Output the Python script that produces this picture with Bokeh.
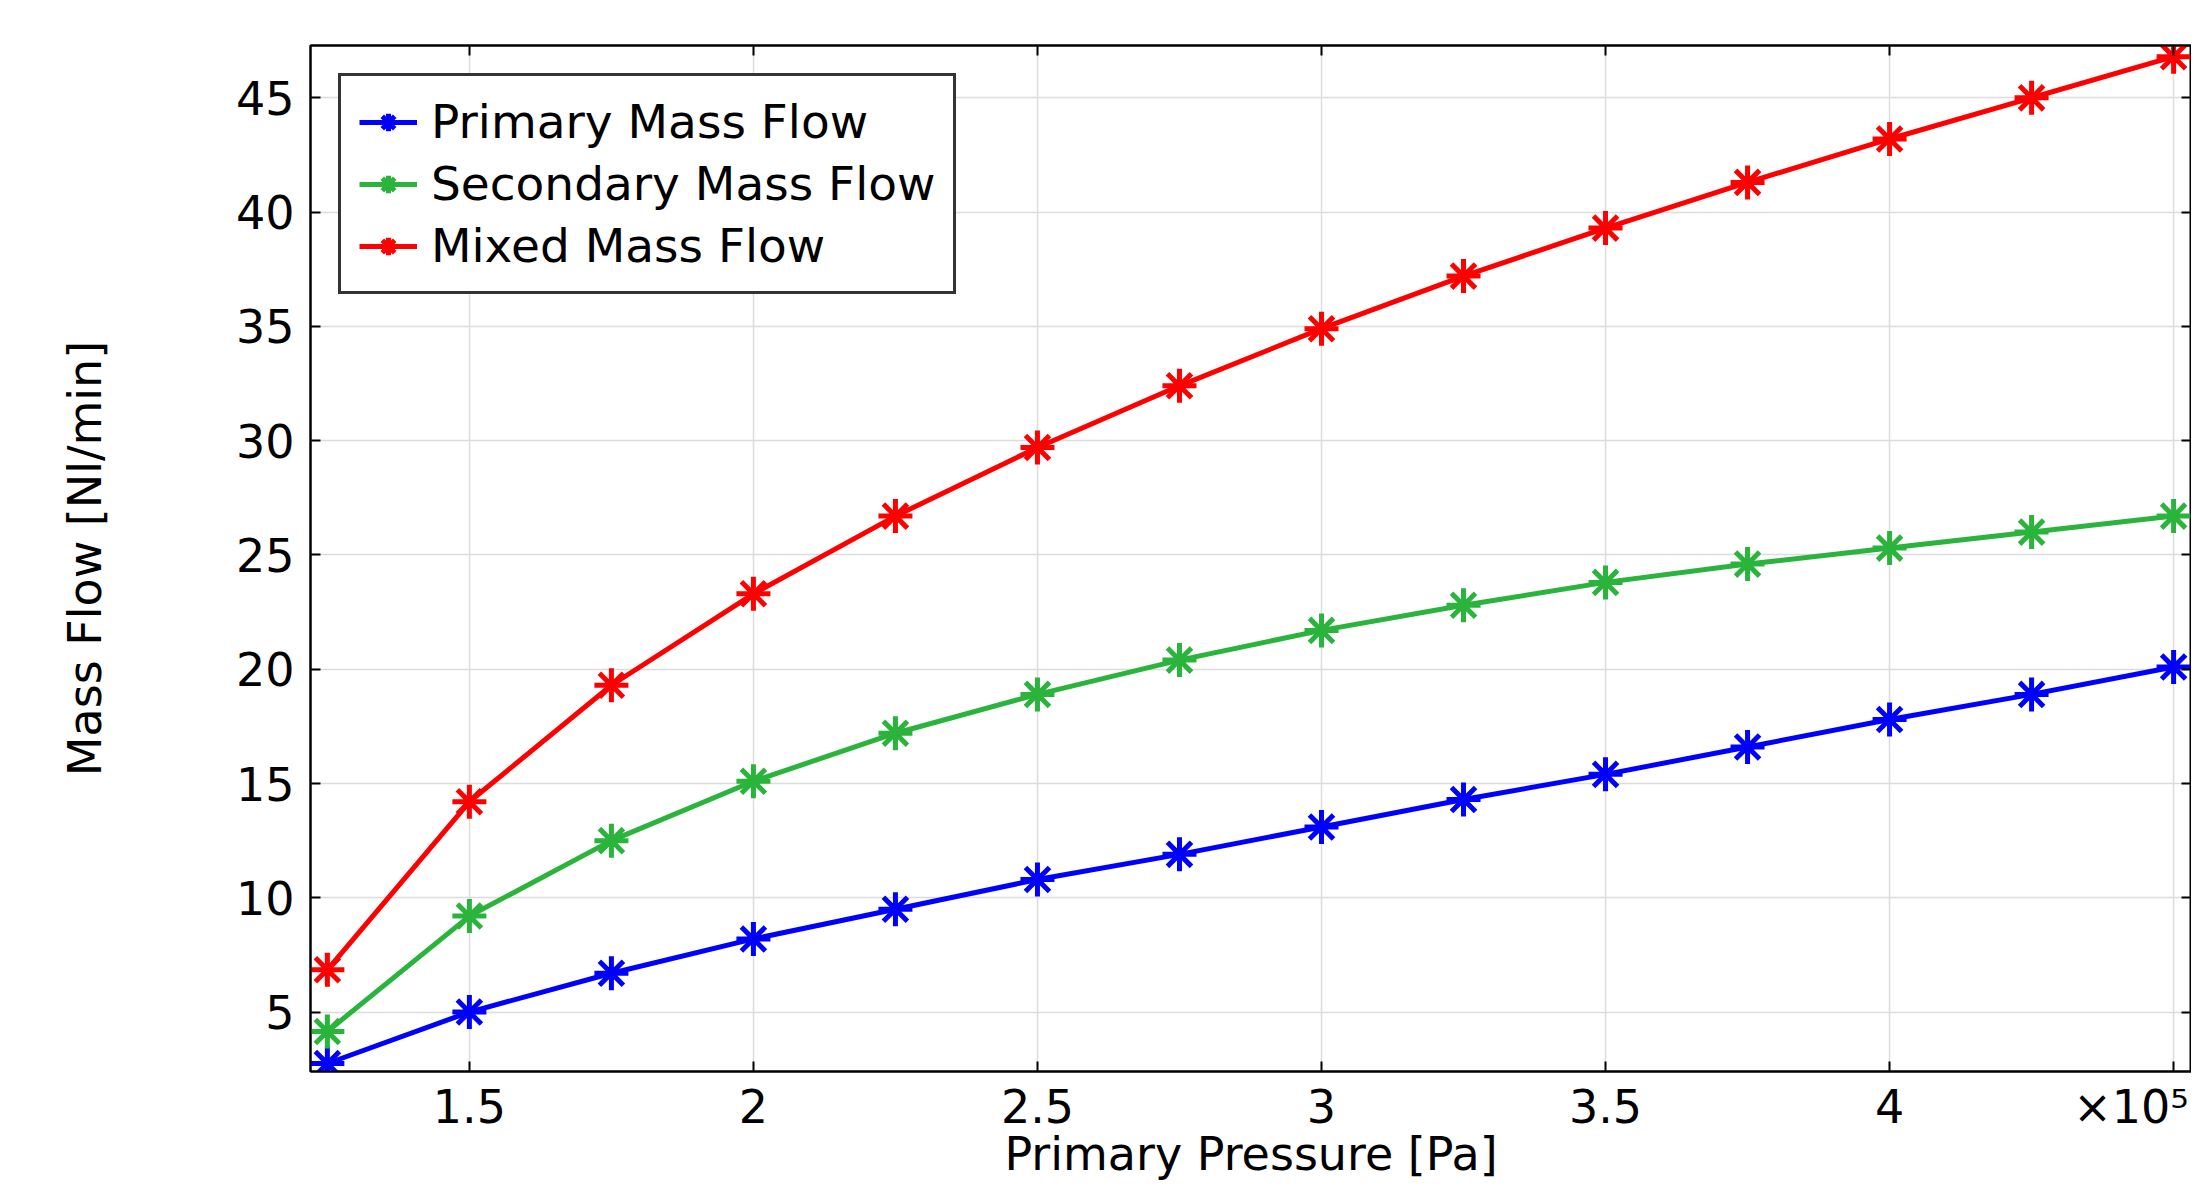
from bokeh.plotting import figure
from bokeh.models import (LinearAxis, FixedTicker, CustomJSTickFormatter,
                          Legend, LegendItem, Range1d)
from bokeh.embed import file_html
from bokeh.resources import INLINE

# ---- data (x in units of 1e5 Pa) ----
pressure = [1.25, 1.5, 1.75, 2.0, 2.25, 2.5, 2.75, 3.0, 3.25, 3.5, 3.75, 4.0, 4.25, 4.5]
primary_flow = [2.75, 5.0, 6.7, 8.2, 9.5, 10.8, 11.9, 13.1, 14.3, 15.4, 16.6, 17.8, 18.9, 20.1]
secondary_flow = [4.15, 9.2, 12.5, 15.1, 17.2, 18.9, 20.4, 21.7, 22.8, 23.8, 24.6, 25.3, 26.0, 26.7]
mixed_flow = [6.85, 14.2, 19.3, 23.3, 26.7, 29.7, 32.4, 34.9, 37.2, 39.3, 41.3, 43.2, 45.0, 46.8]

x_ticks = [1.5, 2.0, 2.5, 3.0, 3.5, 4.0, 4.5]
x_labelled = [1.5, 2.0, 2.5, 3.0, 3.5, 4.0]
exponent_at = 4.425          # where the "x10^5" multiplier label sits
y_ticks = [5, 10, 15, 20, 25, 30, 35, 40, 45]
series_names = ["Primary Mass Flow", "Secondary Mass Flow", "Mixed Mass Flow"]
series_colors = ["#0000ff", "#2ab43c", "#ff0000"]

FONT = "DejaVu Sans"
FS = "46px"

x0, x1 = 1.2203, 4.5315
y0, y1 = 2.40, 47.29

p = figure(width=2191, height=1183, output_backend="svg", toolbar_location=None,
           x_range=Range1d(x0, x1), y_range=Range1d(y0, y1),
           min_border_left=310, min_border_top=45, min_border_bottom=60,
           min_border_right=0)

p.background_fill_color = "white"
p.border_fill_color = "white"
p.outline_line_color = "black"
p.outline_line_width = 2


def style_axis(ax):
    ax.axis_line_color = "black"
    ax.axis_line_width = 2
    ax.major_tick_line_color = "black"
    ax.major_tick_line_width = 2
    ax.major_tick_in = 10
    ax.major_tick_out = 0
    ax.minor_tick_line_color = None
    ax.major_label_text_font = FONT
    ax.major_label_text_color = "black"
    ax.major_label_text_font_size = FS


def hide_labels(ax):
    ax.formatter = CustomJSTickFormatter(code="return '';")
    ax.major_label_text_font_size = "10px"
    ax.major_label_standoff = 0


# bottom axis: labels on major ticks, tick marks drawn as minor ticks
xa = p.xaxis[0]
xa.ticker = FixedTicker(ticks=x_labelled + [exponent_at], minor_ticks=x_ticks)
xa.formatter = CustomJSTickFormatter(
    code="return tick > 4.3 ? '\\u00d710\\u2075' : String(tick);")
style_axis(xa)
xa.major_tick_line_color = None
xa.minor_tick_line_color = "black"
xa.minor_tick_line_width = 2
xa.minor_tick_in = 10
xa.minor_tick_out = 0
xa.major_label_standoff = 8
xa.axis_label = "Primary Pressure [Pa]"
xa.axis_label_text_font = FONT
xa.axis_label_text_font_size = FS
xa.axis_label_text_font_style = "normal"
xa.axis_label_text_color = "black"
xa.axis_label_standoff = -10

ya = p.yaxis[0]
ya.ticker = FixedTicker(ticks=y_ticks)
style_axis(ya)
ya.major_label_standoff = 16
ya.axis_label = "Mass Flow [Nl/min]"
ya.axis_label_text_font = FONT
ya.axis_label_text_font_size = FS
ya.axis_label_text_font_style = "normal"
ya.axis_label_text_color = "black"
ya.axis_label_standoff = 121

top_ax = LinearAxis(ticker=FixedTicker(ticks=x_ticks))
style_axis(top_ax)
hide_labels(top_ax)
p.add_layout(top_ax, "above")
right_ax = LinearAxis(ticker=FixedTicker(ticks=y_ticks))
style_axis(right_ax)
hide_labels(right_ax)
p.add_layout(right_ax, "right")

p.xgrid.ticker = FixedTicker(ticks=x_ticks)
p.ygrid.ticker = FixedTicker(ticks=y_ticks)
for g in (p.xgrid[0], p.ygrid[0]):
    g.grid_line_color = "#dcdcdc"
    g.grid_line_width = 1.5

items = []
for name, ys, col in zip(series_names, [primary_flow, secondary_flow, mixed_flow], series_colors):
    ln = p.line(pressure, ys, line_color=col, line_width=5)
    mk = p.scatter(pressure, ys, marker="asterisk", size=34, line_color=col, line_width=5)
    items.append(LegendItem(label=name, renderers=[ln, mk]))

legend = Legend(items=items, location="top_left")
legend.margin = 28
legend.padding = 18
legend.spacing = 7
legend.glyph_width = 58
legend.glyph_height = 44
legend.label_standoff = 14
legend.label_text_font = FONT
legend.label_text_font_size = "47px"
legend.label_text_color = "black"
legend.border_line_color = "#333333"
legend.border_line_alpha = 1.0
legend.border_line_width = 3
legend.background_fill_color = "white"
legend.background_fill_alpha = 1.0
p.add_layout(legend)

open("out.html", "w", encoding="utf-8").write(file_html(p, INLINE))
